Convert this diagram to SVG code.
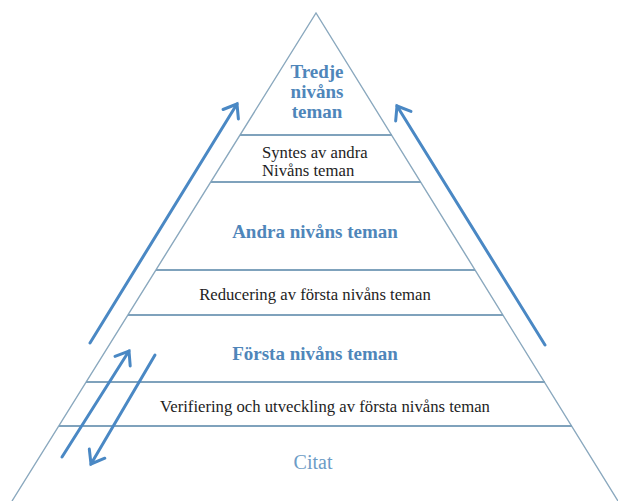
<svg xmlns="http://www.w3.org/2000/svg" width="618" height="501" viewBox="0 0 618 501">
  <style>
    .edge { stroke: #8aa8be; stroke-width: 1.4; fill: none; }
    .tier { stroke: #7fa2bc; stroke-width: 2; fill: none; }
    .arrow { stroke: #4a88c4; stroke-width: 3; fill: none; stroke-linecap: round; }
    .head { stroke: #4a88c4; stroke-width: 3; fill: none; stroke-linecap: round; stroke-linejoin: miter; }
    text { font-family: 'Liberation Serif', 'DejaVu Serif', serif; }
    .title { font-weight: bold; font-size: 19px; fill: #4f86ba; text-anchor: middle; }
    .body { font-size: 16.7px; fill: #1e1e1e; }
    .mid { text-anchor: middle; }
    .citat { font-size: 20px; fill: #6d9cc6; text-anchor: middle; }
  </style>
  <defs>
    <marker id="vhead" markerUnits="userSpaceOnUse" markerWidth="30" markerHeight="30" refX="15" refY="15" orient="auto" overflow="visible">
      <path class="head" d="M3,6 L15,15 L3,24"/>
    </marker>
  </defs>
  <rect width="618" height="501" fill="#ffffff"/>

  <g id="pyramid">
    <path class="edge" d="M12,501 L316,13 L618,501"/>
    <line class="tier" x1="240" y1="135" x2="392" y2="135"/>
    <line class="tier" x1="211" y1="182" x2="421" y2="182"/>
    <line class="tier" x1="156" y1="270" x2="475" y2="270"/>
    <line class="tier" x1="128" y1="315" x2="503" y2="315"/>
    <line class="tier" x1="86" y1="382" x2="545" y2="382"/>
    <line class="tier" x1="59" y1="426" x2="572" y2="426"/>
  </g>

  <g font-family="Liberation Serif, serif">
    <g id="n-tredje">
      <text class="title" x="317" y="78" font-family="Liberation Serif, serif">Tredje</text>
      <text class="title" x="317" y="98" font-family="Liberation Serif, serif">nivåns</text>
      <text class="title" x="317" y="118" font-family="Liberation Serif, serif">teman</text>
    </g>
    <g id="n-syntes">
      <text class="body" x="262" y="158" font-family="Liberation Serif, serif">Syntes av andra</text>
      <text class="body" x="262" y="176" font-family="Liberation Serif, serif">Nivåns teman</text>
    </g>
    <g id="n-andra">
      <text class="title" x="315" y="238" font-family="Liberation Serif, serif">Andra nivåns teman</text>
    </g>
    <g id="n-reducering">
      <text class="body mid" x="315" y="300" font-family="Liberation Serif, serif">Reducering av första nivåns teman</text>
    </g>
    <g id="n-forsta">
      <text class="title" x="315" y="360" font-family="Liberation Serif, serif">Första nivåns teman</text>
    </g>
    <g id="n-verifiering">
      <text class="body mid" x="325" y="412" font-family="Liberation Serif, serif">Verifiering och utveckling av första nivåns teman</text>
    </g>
    <g id="n-citat">
      <text class="citat" x="313" y="469" font-family="Liberation Serif, serif">Citat</text>
    </g>
  </g>

  <g id="connectors">
    <line class="arrow" x1="90" y1="343" x2="237" y2="104" marker-end="url(#vhead)"/>
    <line class="arrow" x1="545" y1="345" x2="397" y2="106" marker-end="url(#vhead)"/>
    <line class="arrow" x1="62" y1="457" x2="129" y2="351" marker-end="url(#vhead)"/>
    <line class="arrow" x1="155" y1="355" x2="91" y2="464" marker-end="url(#vhead)"/>
  </g>
</svg>
